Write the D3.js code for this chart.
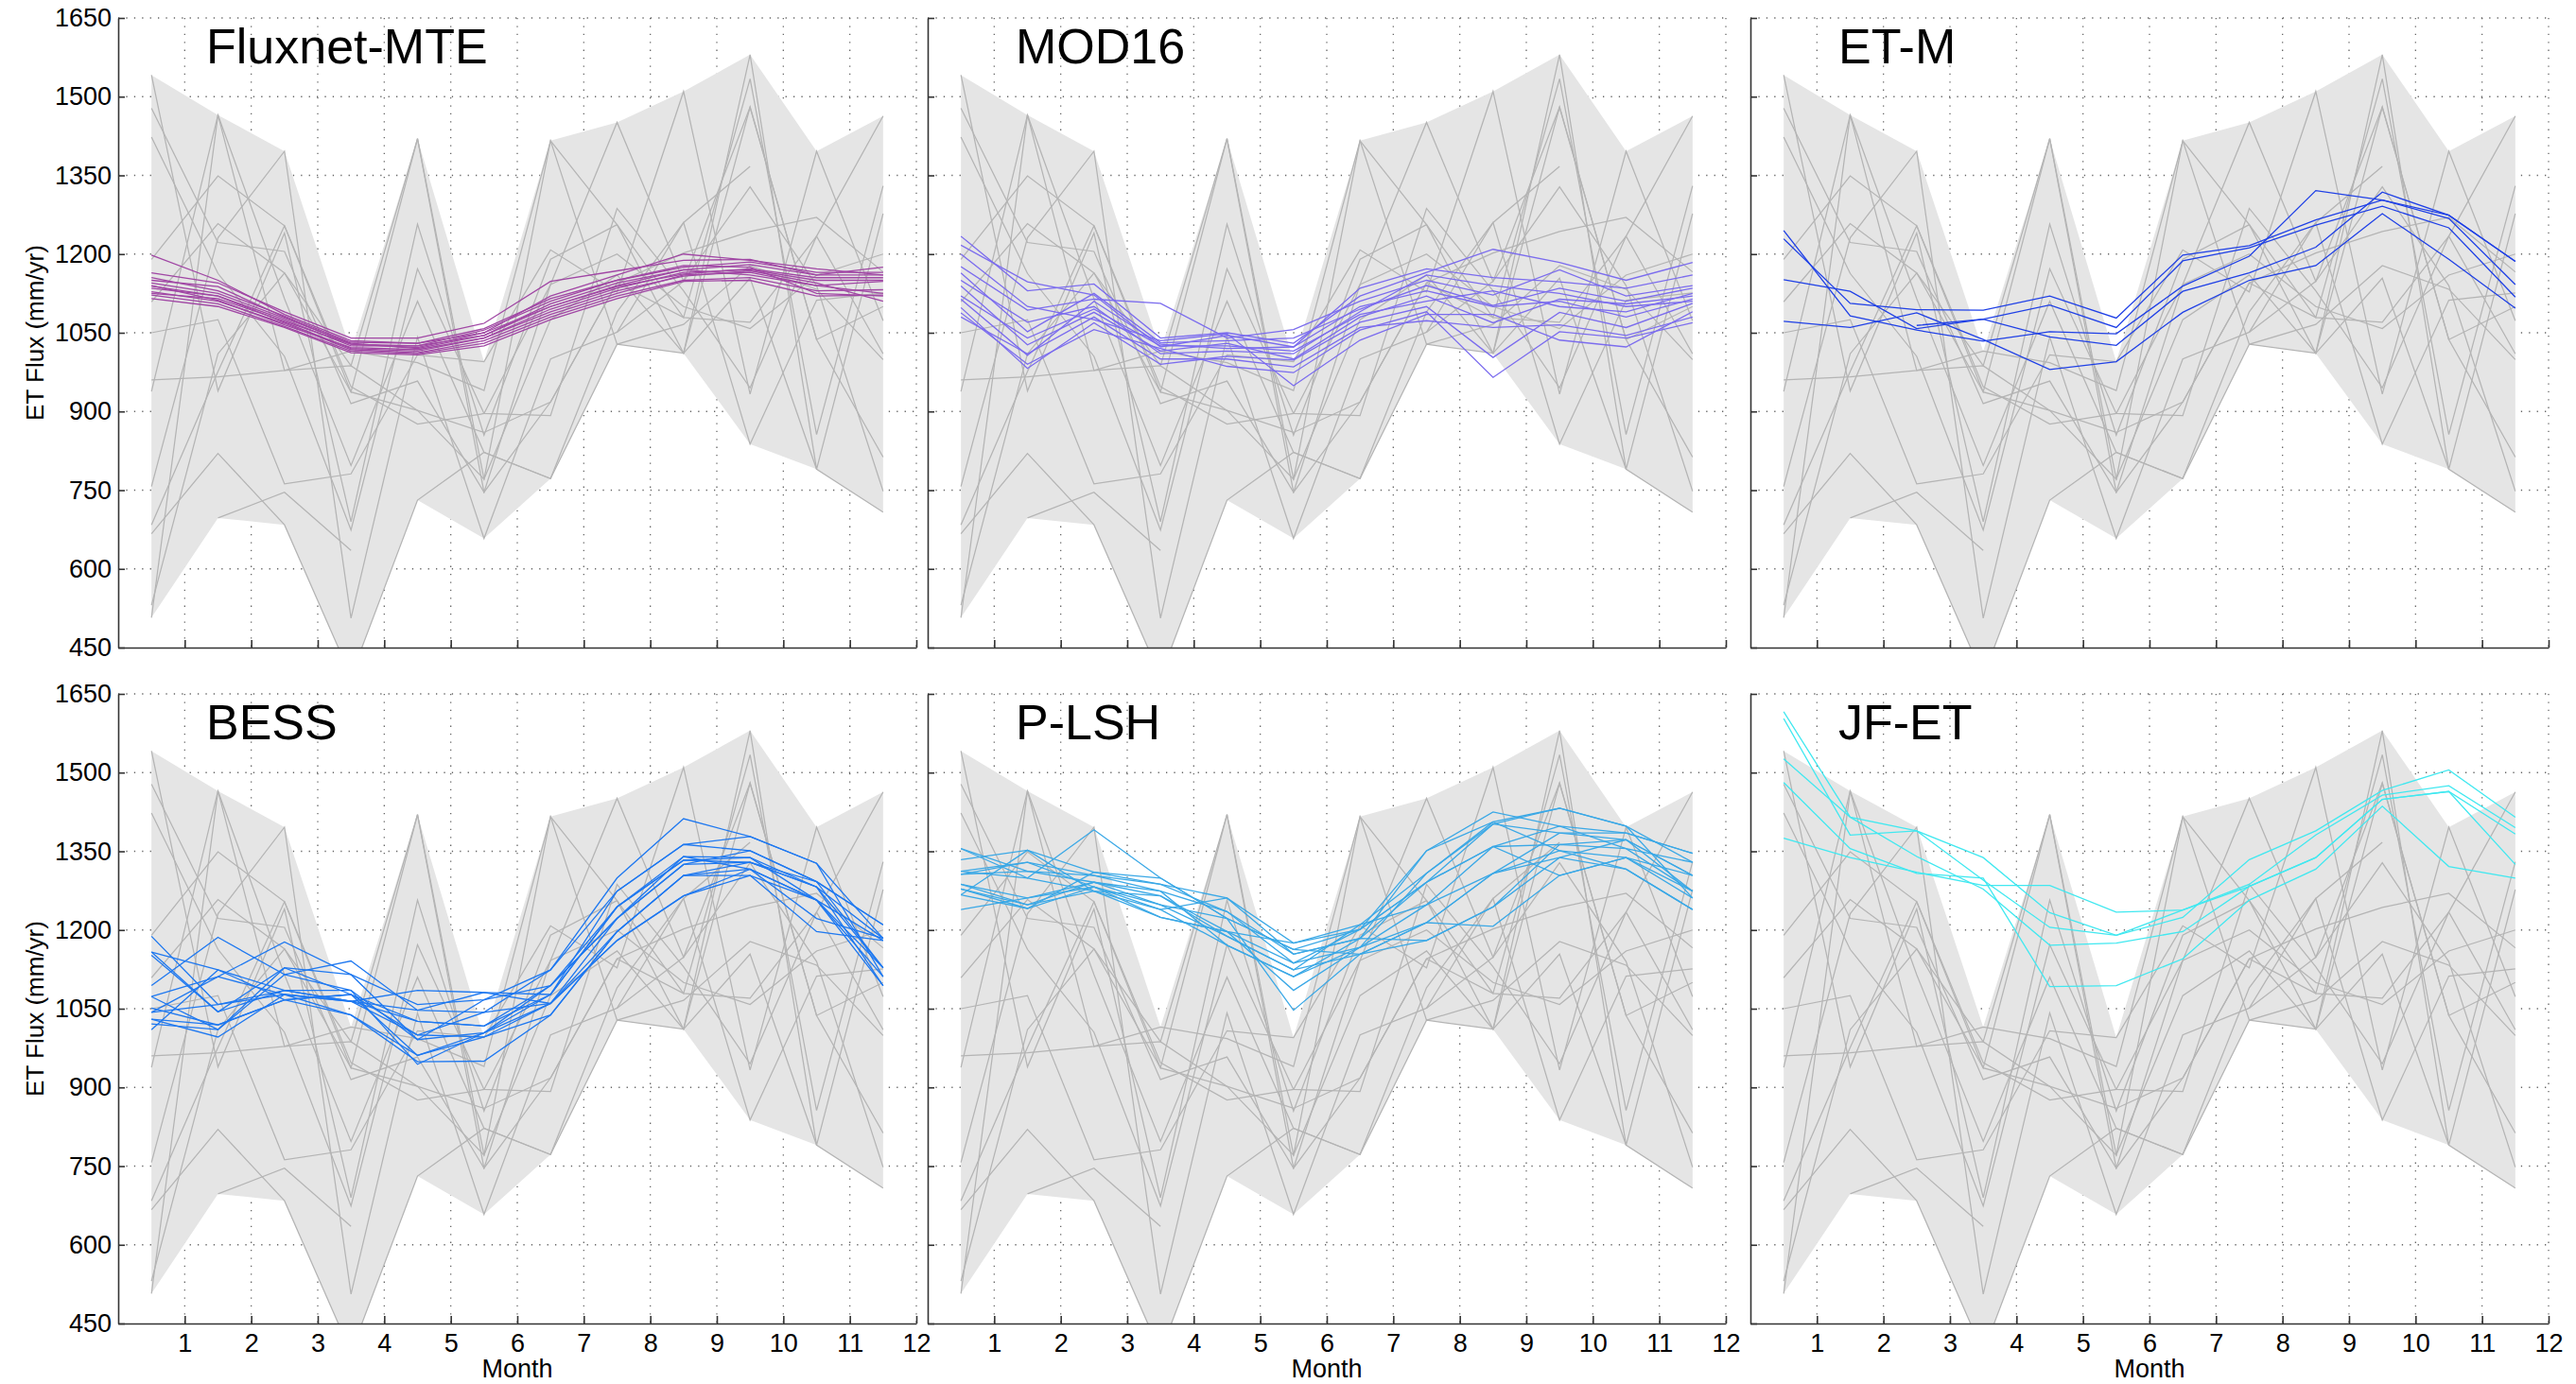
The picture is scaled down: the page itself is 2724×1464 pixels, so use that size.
<!DOCTYPE html>
<html>
<head>
<meta charset="utf-8">
<script src="https://cdn.jsdelivr.net/npm/d3@7"></script>
<style>
  html, body { margin: 0; padding: 0; background: #fff; }
  svg { display: block; font-family: "Liberation Sans", Arial, Helvetica, sans-serif; }
</style>
</head>
<body>
<svg id="chart" width="2724" height="1464"></svg>
<script>
// month centres (values are monthly means plotted mid-month)
const months = [0.5, 1.5, 2.5, 3.5, 4.5, 5.5, 6.5, 7.5, 8.5, 9.5, 10.5, 11.5];
const monthTicks = [1, 2, 3, 4, 5, 6, 7, 8, 9, 10, 11, 12];
const fluxTicks = [450, 600, 750, 900, 1050, 1200, 1350, 1500, 1650];

// grey site lines, identical in all six panels (null = no value)
const siteLines = [
  [1541,  939, 1240,  690, 1257,  855, 1190, 1256, 1079, 1534,  856, 1330],
  [1478, 1222, 1205,  915,  958,  746, 1142, 1451, 1148, 1480, 1037,  813],
  [1423, 1163, 1005,  674, 1172,  896,  892, 1287, 1130,  945, 1234, 1463],
  [1190, 1349, 1254,  937,  902,  860,  918, 1145, 1202, 1243, 1270, 1166],
  [1109, 1258, 1164,  987, 1420,  771, 1075, 1160, 1011, 1580,  790, 1277],
  [1050, 1075,  762,  781, 1008,  995, 1208, 1128, 1510,  933, 1396, 1073],
  [ 960,  966,  978, 1015,  993,  940, 1416, 1028, 1066, 1178, 1133,  999],
  [ 938, 1465, 1115,  797, 1110,  822,  772, 1090, 1260,  838, 1112, 1126],
  [ 757, 1231, 1396,  506, 1042,  658, 1000, 1051, 1148, 1328, 1140,  748],
  [ 684,  976, 1254,  947,  876,  896, 1142, 1200, 1100, 1058, 1160, 1200],
  [ 667,  820,  684,  395,  731,  822,  772, 1028, 1011, 1154,  790,  708],
  [ 531, 1010, 1164,  937, 1420,  746,  918, 1145, 1079, 1070, 1234, 1010],
  [ 507, 1465,  978,  987,  902,  771, 1416, 1256, 1011, 1480, 1037, 1100],
  [null,  697,  746,  635, null, null, null, null, null, null, null, null],
  [null, null, null, null, null, null, null, 1051, 1260, 1367, null, null]
];

const fluxnetMTE = [
  [1198, 1150, 1085, 1035, 1030, 1050, 1120, 1160, 1200, 1188, 1172, 1160],
  [1164, 1145, 1090, 1040, 1040, 1068, 1148, 1168, 1188, 1190, 1160, 1175],
  [1150, 1138, 1080, 1028, 1025, 1055, 1110, 1150, 1175, 1185, 1165, 1165],
  [1145, 1125, 1078, 1030, 1020, 1045, 1100, 1140, 1170, 1180, 1160, 1160],
  [1139, 1120, 1070, 1020, 1015, 1040, 1095, 1135, 1165, 1170, 1150, 1150],
  [1128, 1110, 1068, 1018, 1012, 1035, 1085, 1125, 1160, 1165, 1140, 1148],
  [1122, 1105, 1062, 1015, 1010, 1030, 1080, 1120, 1150, 1155, 1130, 1132],
  [1115, 1100, 1060, 1012, 1008, 1025, 1075, 1115, 1148, 1150, 1120, 1122],
  [1135, 1120, 1075, 1025, 1025, 1045, 1105, 1145, 1170, 1160, 1140, 1125],
  [1155, 1130, 1082, 1032, 1030, 1058, 1115, 1150, 1178, 1175, 1125, 1120],
  [1140, 1112, 1065, 1022, 1018, 1040, 1090, 1130, 1158, 1168, 1145, 1110],
  [1125, 1115, 1072, 1028, 1022, 1050, 1100, 1138, 1162, 1172, 1155, 1155]
];

const mod16 = [
  [1234, 1130, 1143, 1040, 1050, 1030, 1120, 1165, 1209, 1184, 1150, 1184],
  [1217, 1147, 1122, 1023, 1045, 1023, 1135, 1172, 1155, 1147, 1135, 1160],
  [1176, 1093, 1114, 1106, 1040, 1056, 1110, 1150, 1122, 1170, 1120, 1140],
  [1164, 1052, 1125, 1031, 1035, 1040, 1095, 1140, 1102, 1135, 1110, 1135],
  [1139, 1027, 1089, 1015, 1030, 1000, 1080, 1120, 1069, 1114, 1105, 1120],
  [1114, 1007, 1110, 1028, 1020, 1023, 1100, 1130, 1100, 1110, 1080, 1114],
  [1098,  982, 1069,  990, 1005,  998, 1070, 1100, 1003, 1089, 1060, 1106],
  [1088,  990, 1056, 1020,  986,  974, 1055, 1090,  965, 1052, 1040, 1069],
  [1200, 1100, 1075, 1035, 1048,  949, 1036, 1085, 1085, 1036, 1023, 1090],
  [1150, 1070, 1100, 1010, 1015, 1010, 1090, 1160, 1140, 1125, 1100, 1110],
  [1080, 1010, 1080, 1000, 1000,  985, 1060, 1073, 1060, 1065, 1045, 1080],
  [1120, 1040, 1095, 1025, 1025, 1015, 1085, 1110, 1130, 1100, 1090, 1125]
];

const etM = [
  [1245, 1082, 1055, 1034, 1052, 1048, 1139, 1196, 1321, 1303, 1274, 1186],
  [1229, 1106, 1094, 1093, 1120, 1078, 1198, 1216, 1265, 1303, 1268, 1142],
  [1151, 1129, 1058, 1076, 1042, 1026, 1129, 1164, 1213, 1318, 1274, 1186],
  [1072, 1060, 1088, 1037,  980,  995, 1089, 1150, 1178, 1277, 1190, 1097],
  [null, null, 1064, 1076, 1103, 1060, 1187, 1212, 1255, 1291, 1250, 1118]
];

const bess = [
  [1188, 1058, 1077, 1064, 1000,  996, 1060, 1222, 1340, 1316, 1257, 1180],
  [1158, 1124, 1085, 1085,  991, 1004, 1094, 1244, 1333, 1338, 1282, 1184],
  [1152, 1044, 1128, 1077, 1026, 1017, 1077, 1274, 1363, 1351, 1292, 1210],
  [1094, 1186, 1115, 1141, 1047, 1043, 1124, 1299, 1412, 1378, 1327, 1111],
  [1073, 1111, 1177, 1115, 1058, 1067, 1094, 1222, 1325, 1329, 1282, 1128],
  [1051, 1019, 1067, 1038,  961,  996, 1038, 1197, 1304, 1304, 1257, 1094],
  [1043, 1058, 1085, 1064, 1085, 1081, 1060, 1180, 1265, 1316, 1222, 1184],
  [1030,  996, 1077, 1038,  949,  950, 1038, 1197, 1304, 1329, 1292, 1128],
  [1021, 1010, 1115, 1085,  944, 1004, 1077, 1244, 1340, 1338, 1257, 1111],
  [1010, 1124, 1067, 1077, 1000, 1043, 1060, 1180, 1265, 1304, 1197, 1180],
  [1158, 1044, 1085, 1064, 1026, 1017, 1094, 1222, 1325, 1351, 1292, 1210],
  [1073, 1010, 1128, 1115,  991, 1067, 1124, 1274, 1363, 1378, 1327, 1184],
  [1043, 1111, 1077, 1064, 1047, 1081, 1077, 1244, 1333, 1329, 1282, 1094],
  [1030, 1019, 1067, 1077,  961, 1004, 1060, 1197, 1304, 1316, 1257, 1128]
];

const pLSH = [
  [1355, 1299, 1391, 1299, 1222, 1163, 1201, 1351, 1425, 1398, 1385, 1346],
  [1334, 1352, 1310, 1287, 1261, 1175, 1210, 1308, 1406, 1432, 1398, 1329],
  [1312, 1329, 1304, 1274, 1235, 1154, 1184, 1291, 1402, 1385, 1372, 1304],
  [1306, 1312, 1291, 1265, 1197, 1137, 1167, 1248, 1359, 1363, 1355, 1274],
  [1287, 1261, 1282, 1248, 1188, 1124, 1154, 1214, 1308, 1351, 1338, 1261],
  [1278, 1248, 1274, 1239, 1171, 1111, 1184, 1180, 1244, 1338, 1316, 1239],
  [1267, 1241, 1282, 1224, 1197, 1085, 1167, 1214, 1207, 1304, 1338, 1274],
  [1239, 1261, 1291, 1248, 1222, 1047, 1154, 1180, 1244, 1363, 1372, 1304],
  [1355, 1312, 1304, 1287, 1235, 1137, 1201, 1291, 1359, 1398, 1355, 1329],
  [1312, 1299, 1274, 1265, 1188, 1124, 1210, 1248, 1308, 1385, 1385, 1346],
  [1287, 1248, 1291, 1274, 1171, 1111, 1167, 1308, 1402, 1432, 1398, 1261],
  [1306, 1329, 1282, 1239, 1261, 1154, 1184, 1351, 1406, 1351, 1316, 1239],
  [1278, 1241, 1310, 1299, 1222, 1163, 1154, 1214, 1308, 1338, 1372, 1274],
  [1267, 1352, 1274, 1224, 1197, 1175, 1201, 1291, 1359, 1304, 1338, 1304]
];

const jfET = [
  [1616, 1415, 1389, 1338, 1233, 1190, 1224, 1334, 1389, 1466, 1505, 1415],
  [1603, 1381, 1389, 1295, 1205, 1190, 1238, 1287, 1381, 1457, 1475, 1395],
  [1526, 1415, 1340, 1278, 1171, 1175, 1197, 1283, 1338, 1449, 1464, 1383],
  [1481, 1355, 1308, 1299, 1092, 1094, 1145, 1257, 1316, 1436, 1321, 1299],
  [1375, 1338, 1310, 1285, 1285, 1234, 1238, 1283, 1338, 1449, 1464, 1325]
];

const panelNames = ["Fluxnet-MTE", "MOD16", "ET-M", "BESS", "P-LSH", "JF-ET"];
const panelSeries = [fluxnetMTE, mod16, etM, bess, pLSH, jfET];

// ---------------------------------------------------------------
// layout and styling
const panelLeft = [125, 981, 1851];
const panelTop = [19, 734];
const panelW = 844;
const panelH = 666;
const lineColors = ["#a046a4", "#7b6cee", "#1f40e6", "#1e78f0", "#3aa8e6", "#40e8f0"];
const font = "\"Liberation Sans\", Arial, Helvetica, sans-serif";

const svg = d3.select("#chart");

// envelope of the site lines
const upper = months.map((m, i) => d3.max(siteLines, l => l[i]));
const lower = months.map((m, i) => d3.min(siteLines, l => l[i]));

panelNames.forEach((name, p) => {
    const col = p % 3;
    const row = Math.floor(p / 3);
    const left = panelLeft[col];
    const top = panelTop[row];

    const x = d3.scaleLinear().domain([0, 12]).range([left, left + panelW]);
    const y = d3.scaleLinear().domain([450, 1650]).range([top + panelH, top]);

    const g = svg.append("g").attr("class", "panel");

    const clipId = "clip" + p;
    g.append("clipPath").attr("id", clipId)
        .append("rect")
        .attr("x", left).attr("y", top)
        .attr("width", panelW).attr("height", panelH);

    // dotted grid, sits under the envelope
    const grid = g.append("g")
        .attr("stroke", "#666")
        .attr("stroke-width", 1.3)
        .attr("stroke-dasharray", "1.3 7.1");
    grid.selectAll("line.h")
        .data(fluxTicks.filter(v => v > 450))
        .join("line")
        .attr("class", "h")
        .attr("x1", left).attr("x2", left + panelW)
        .attr("y1", d => y(d)).attr("y2", d => y(d));
    grid.selectAll("line.v")
        .data(monthTicks)
        .join("line")
        .attr("class", "v")
        .attr("x1", d => x(d)).attr("x2", d => x(d))
        .attr("y1", top).attr("y2", top + panelH);

    const plot = g.append("g").attr("clip-path", `url(#${clipId})`);

    const area = d3.area()
        .x((d, i) => x(months[i]))
        .y0((d, i) => y(lower[i]))
        .y1(d => y(d));
    plot.append("path")
        .datum(upper)
        .attr("fill", "#e5e5e5")
        .attr("stroke", "none")
        .attr("d", area);

    const line = d3.line()
        .defined(d => d != null)
        .x((d, i) => x(months[i]))
        .y(d => y(d));

    plot.selectAll("path.site")
        .data(siteLines)
        .join("path")
        .attr("class", "site")
        .attr("fill", "none")
        .attr("stroke", "#b4b4b4")
        .attr("stroke-width", 1.25)
        .attr("d", line);

    plot.selectAll("path.model")
        .data(panelSeries[p])
        .join("path")
        .attr("class", "model")
        .attr("fill", "none")
        .attr("stroke", lineColors[p])
        .attr("stroke-width", 1.3)
        .attr("d", line);

    // axes
    const yAxis = d3.axisLeft(y)
        .tickValues(fluxTicks)
        .tickSize(-7)
        .tickSizeOuter(0)
        .tickPadding(7)
        .tickFormat(col === 0 ? d3.format("d") : () => "");
    const xAxis = d3.axisBottom(x)
        .tickValues(monthTicks)
        .tickSize(-8)
        .tickSizeOuter(0)
        .tickPadding(11)
        .tickFormat(row === 1 ? d3.format("d") : () => "");

    g.append("g")
        .attr("transform", `translate(${left},0)`)
        .call(yAxis)
        .call(a => a.selectAll("path, line").attr("stroke", "#333").attr("stroke-width", 1.6))
        .call(a => a.selectAll("text").attr("fill", "#000").attr("font-size", 27).attr("font-family", font));

    g.append("g")
        .attr("transform", `translate(0,${top + panelH})`)
        .call(xAxis)
        .call(a => a.selectAll("path, line").attr("stroke", "#333").attr("stroke-width", 1.6))
        .call(a => a.selectAll("text").attr("fill", "#000").attr("font-size", 27).attr("font-family", font));

    g.append("text")
        .attr("x", left + 93)
        .attr("y", top + 48)
        .attr("font-family", font)
        .attr("font-size", 52)
        .attr("fill", "#000")
        .text(name);

    if (col === 0) {
        g.append("text")
            .attr("transform", `translate(46,${top + panelH / 2}) rotate(-90)`)
            .attr("text-anchor", "middle")
            .attr("font-family", font)
            .attr("font-size", 26)
            .attr("fill", "#000")
            .text("ET Flux (mm/yr)");
    }
    if (row === 1) {
        g.append("text")
            .attr("x", x(6))
            .attr("y", top + panelH + 57)
            .attr("text-anchor", "middle")
            .attr("font-family", font)
            .attr("font-size", 27)
            .attr("fill", "#000")
            .text("Month");
    }
});
</script>
</body>
</html>
